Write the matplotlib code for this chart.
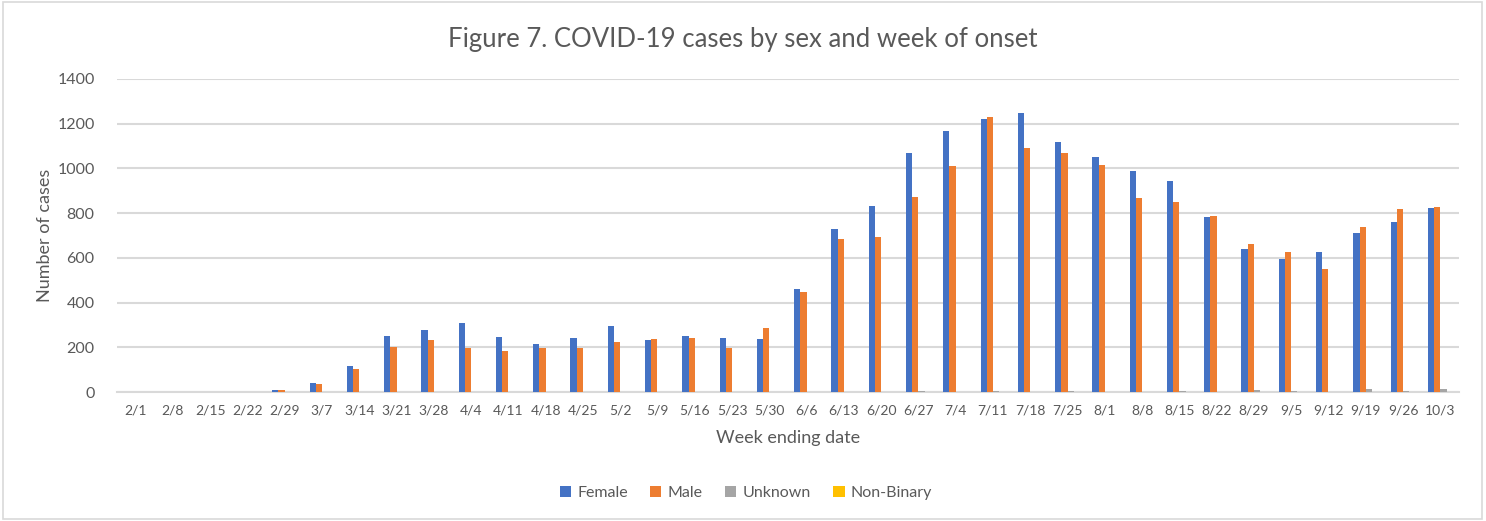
import numpy as np
import matplotlib
matplotlib.use("Agg")
import matplotlib.pyplot as plt
from matplotlib.patches import Rectangle

# ---- data ----
weeks = ["2/1", "2/8", "2/15", "2/22", "2/29", "3/7", "3/14", "3/21", "3/28", "4/4",
         "4/11", "4/18", "4/25", "5/2", "5/9", "5/16", "5/23", "5/30", "6/6", "6/13",
         "6/20", "6/27", "7/4", "7/11", "7/18", "7/25", "8/1", "8/8", "8/15", "8/22",
         "8/29", "9/5", "9/12", "9/19", "9/26", "10/3"]
female = [0, 0, 0, 0, 10, 42, 118, 252, 279, 309,
          245, 216, 243, 297, 234, 252, 243, 239, 461, 730,
          833, 1069, 1167, 1222, 1249, 1119, 1052, 990, 945, 784,
          640, 593, 627, 712, 761, 824]
male = [0, 0, 0, 0, 10, 34, 104, 203, 234, 196,
        182, 196, 199, 225, 239, 243, 196, 288, 449, 685,
        694, 873, 1012, 1230, 1093, 1070, 1016, 869, 851, 788,
        660, 627, 548, 739, 819, 828]
unknown = [0, 0, 0, 0, 0, 0, 0, 0, 0, 0,
           0, 0, 0, 0, 0, 0, 0, 0, 0, 0,
           0, 4, 0, 4, 0, 4, 0, 0, 4, 0,
           10, 4, 0, 15, 4, 15]
nonbinary = [0] * len(weeks)

series = ["Female", "Male", "Unknown", "Non-Binary"]
colors = ["#4472C4", "#ED7D31", "#A5A5A5", "#FFC000"]

plt.rcParams['font.family'] = ['Lato', 'DejaVu Sans']
txt = "#595959"

fig = plt.figure(figsize=(14.86, 5.21), dpi=100)
ax = fig.add_axes([0.0787, 0.2476, 0.9031, 0.6008])

x = np.arange(len(weeks))
w = 0.167
for i, (name, vals) in enumerate(zip(series, [female, male, unknown, nonbinary])):
    ax.bar(x + (i - 1.5) * w, vals, width=w, color=colors[i], label=name, zorder=3)

ax.set_xlim(-0.5, len(weeks) - 0.5)
ax.set_ylim(0, 1400)
ax.set_yticks(range(0, 1401, 200))
ax.set_xticks(x)
ax.set_xticklabels(weeks)
ax.tick_params(axis='y', length=0, pad=16, labelsize=11.5, labelcolor=txt)
ax.tick_params(axis='x', length=0, pad=9, labelsize=10, labelcolor=txt)
ax.grid(axis='y', color="#D9D9D9", linewidth=1.5, zorder=0)
for s in ["top", "right", "left"]:
    ax.spines[s].set_visible(False)
ax.spines["bottom"].set_color("#D9D9D9")
ax.spines["bottom"].set_linewidth(1.5)

ax.set_xlabel("Week ending date", fontsize=13, color=txt, labelpad=10)
ax.set_ylabel("Number of cases", fontsize=13, color=txt, labelpad=3)
fig.text(0.5, 0.925, "Figure 7. COVID-19 cases by sex and week of onset",
         ha="center", va="center", fontsize=18.5, color=txt)

fig.legend(loc="center", bbox_to_anchor=(0.502, 0.053), ncol=4, frameon=False,
           fontsize=11.5, labelcolor=txt, handlelength=0.7, handleheight=0.7,
           handletextpad=0.4, columnspacing=1.4)

# light frame around the whole chart
fig.patches.append(Rectangle((0.002, 0.003), 0.995, 0.993, transform=fig.transFigure,
                             fill=False, edgecolor="#D9D9D9", linewidth=1.2))

fig.savefig("out.png", dpi=100)
